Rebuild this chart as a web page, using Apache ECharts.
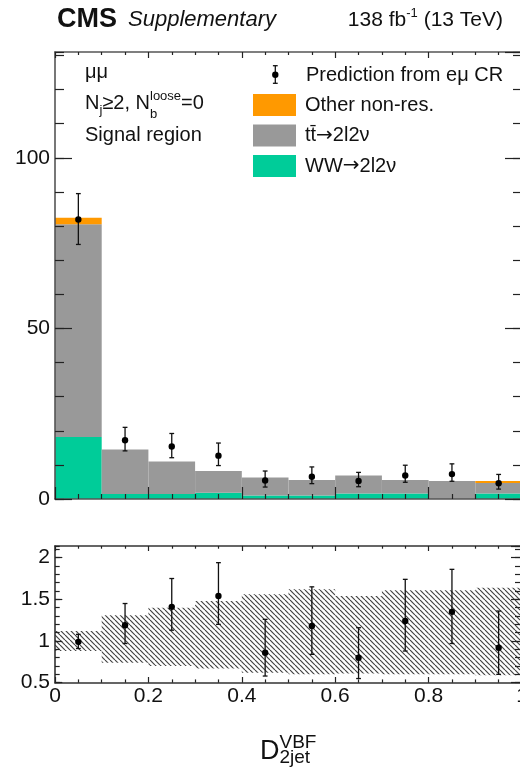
<!DOCTYPE html>
<html>
<head>
<meta charset="utf-8">
<script src="https://cdn.jsdelivr.net/npm/echarts@6/dist/echarts.min.js"></script>
<style>
  html, body { margin: 0; padding: 0; background: #fff; }
  #chart { width: 520px; height: 778px; }
</style>
</head>
<body>
<div id="chart"></div>
<script>
// D_2jet^VBF bin edges
const binEdges = [0, 0.1, 0.2, 0.3, 0.4, 0.5, 0.6, 0.7, 0.8, 0.9, 1.0];

// Stacked background components, events per bin
const wwYield    = [18.2, 1.5, 1.5, 1.8, 1.0, 1.0, 1.6, 1.6, 0.0, 1.6];
const ttbarYield = [62.3, 13.0, 9.5, 6.4, 5.3, 4.6, 5.3, 4.0, 5.3, 3.1];
const otherYield = [1.9, 0, 0, 0, 0, 0, 0, 0, 0, 0.6];

// Prediction from the e-mu control region (central value, error bar limits)
const predValue = [81.9, 17.2, 15.4, 12.7, 5.4, 6.5, 5.3, 6.9, 7.3, 4.6];
const predHigh  = [89.5, 21.0, 19.2, 16.4, 8.2, 9.4, 7.8, 9.9, 10.3, 7.2];
const predLow   = [74.6, 14.1, 12.1, 9.8, 3.5, 4.5, 3.6, 4.9, 5.2, 2.9];

// Ratio panel: prediction / stack, with error bar limits
const ratioValue = [0.99, 1.19, 1.41, 1.54, 0.86, 1.18, 0.80, 1.24, 1.35, 0.92];
const ratioHigh  = [1.08, 1.45, 1.75, 1.94, 1.26, 1.65, 1.16, 1.74, 1.86, 1.36];
const ratioLow   = [0.91, 0.97, 1.13, 1.20, 0.58, 0.84, 0.55, 0.88, 0.97, 0.60];

// Uncertainty band of the stack in the ratio panel
const bandHigh = [1.12, 1.31, 1.40, 1.48, 1.56, 1.62, 1.54, 1.61, 1.61, 1.64];
const bandLow  = [0.88, 0.74, 0.70, 0.67, 0.62, 0.60, 0.61, 0.60, 0.60, 0.59];

// Axis ranges and tick spacing
const mainYRange = [0, 131];
const mainYMajor = 50, mainYMinor = 10;
const ratioYRange = [0.5, 2.14];
const ratioYMajor = 0.5, ratioYMinor = 0.1;
const xMajor = 0.2;

// Series / legend names
const NAME_OTHER = 'Other non-res.';
const NAME_TT = 'tt\u0304\u21922l2\u03bd';
const NAME_WW = 'WW\u21922l2\u03bd';
const NAME_PRED = 'Prediction from e\u03bc CR';

const FONT = 'Liberation Sans';
const INK = '#111';
const COLORS = { other: '#ff9900', ttbar: '#999999', ww: '#00cc99' };

const bins = binEdges.slice(0, -1).map((lo, i) => ({ lo, hi: binEdges[i + 1], mid: (lo + binEdges[i + 1]) / 2 }));

const wwData = bins.map((b, i) => [b.lo, b.hi, 0, wwYield[i]]);
const ttData = bins.map((b, i) => [b.lo, b.hi, wwYield[i], wwYield[i] + ttbarYield[i]]);
const otherData = bins.map((b, i) => {
  const base = wwYield[i] + ttbarYield[i];
  return [b.lo, b.hi, base, base + otherYield[i]];
});
const predData = bins.map((b, i) => [b.mid, predValue[i], predLow[i], predHigh[i]]);
const ratioData = bins.map((b, i) => [b.mid, ratioValue[i], ratioLow[i], ratioHigh[i]]);
const bandData = bins.map((b, i) => [b.lo, b.hi, bandLow[i], bandHigh[i]]);

// Diagonal hatch tile for the uncertainty band
function hatchTile() {
  const s = 5;
  const c = document.createElement('canvas');
  c.width = s; c.height = s;
  const g = c.getContext('2d');
  g.strokeStyle = '#444';
  g.lineWidth = 1.2;
  for (const k of [-1, 0, 1]) {
    g.beginPath();
    g.moveTo(k * s, 0);
    g.lineTo(k * s + s, s);
    g.stroke();
  }
  return c;
}
const hatch = { image: hatchTile(), repeat: 'repeat' };

// Histogram box spanning [lo, hi] x [base, top]
function renderBox(params, api) {
  const a = api.coord([api.value(0), api.value(2)]);
  const b = api.coord([api.value(1), api.value(3)]);
  return {
    type: 'rect',
    shape: { x: a[0], y: b[1], width: b[0] - a[0], height: a[1] - b[1] },
    style: api.style()
  };
}

function renderBand(params, api) {
  const a = api.coord([api.value(0), api.value(2)]);
  const b = api.coord([api.value(1), api.value(3)]);
  return {
    type: 'rect',
    shape: { x: a[0], y: b[1], width: b[0] - a[0], height: a[1] - b[1] },
    style: { fill: hatch, stroke: null }
  };
}

// Marker with vertical error bar and small caps
function renderPoint(params, api) {
  const c = api.coord([api.value(0), api.value(1)]);
  const lo = api.coord([api.value(0), api.value(2)]);
  const hi = api.coord([api.value(0), api.value(3)]);
  const ls = { stroke: INK, lineWidth: 1.3 };
  const cap = 2.4;
  return {
    type: 'group',
    children: [
      { type: 'line', shape: { x1: c[0], y1: hi[1], x2: c[0], y2: lo[1] }, style: ls },
      { type: 'line', shape: { x1: c[0] - cap, y1: hi[1], x2: c[0] + cap, y2: hi[1] }, style: ls },
      { type: 'line', shape: { x1: c[0] - cap, y1: lo[1], x2: c[0] + cap, y2: lo[1] }, style: ls },
      { type: 'circle', shape: { cx: c[0], cy: c[1], r: 3.2 }, style: { fill: '#000' } }
    ]
  };
}

// Text layout with sub/superscripts
const measureCtx = document.createElement('canvas').getContext('2d');
function textWidth(str, size, weight, style) {
  measureCtx.font = `${style || 'normal'} ${weight || 'normal'} ${size}px "${FONT}"`;
  return measureCtx.measureText(str).width;
}
function textRun(x0, y0, pieces, alignRight) {
  const placed = [];
  let x = 0, prevX = 0, prevW = 0;
  pieces.forEach(p => {
    const w = textWidth(p.text, p.size, p.weight, p.style);
    let px;
    if (p.stack) {
      px = prevX;
      const adv = Math.max(prevW, w);
      x = prevX + adv;
      prevW = adv;
    } else {
      px = x; prevX = x; prevW = w; x += w;
    }
    placed.push({ p, px });
  });
  const shift = alignRight ? x0 - x : x0;
  return placed.map(({ p, px }) => ({
    type: 'text',
    x: shift + px,
    y: y0 + (p.dy || 0),
    z: 20,
    style: {
      text: p.text,
      fontSize: p.size,
      fontFamily: FONT,
      fontWeight: p.weight || 'normal',
      fontStyle: p.style || 'normal',
      fill: INK,
      align: 'left',
      verticalAlign: 'middle'
    }
  }));
}

const frameLine = (color) => ({ show: true, onZero: false, lineStyle: { color, width: 1.6 } });
const tickStyle = { color: '#222', width: 1.2 };
const noSplit = { splitLine: { show: false }, minorSplitLine: { show: false } };

function xAxisDef(grid, position, major, minor, labels) {
  return Object.assign({
    type: 'value', gridIndex: grid, position, min: 0, max: 1, interval: xMajor, z: 10,
    axisLine: frameLine(grid === 0 ? '#555' : '#333'),
    axisTick: { show: true, inside: true, length: major, lineStyle: tickStyle },
    minorTick: { show: true, splitNumber: 4, length: minor, lineStyle: tickStyle },
    axisLabel: labels
      ? { show: true, fontSize: 21, fontFamily: FONT, color: INK, margin: 3 }
      : { show: false }
  }, noSplit);
}

function yAxisDef(grid, position, range, interval, tickLen, withLine, labels) {
  return Object.assign({
    type: 'value', gridIndex: grid, position, min: range[0], max: range[1], interval, z: 10,
    axisLine: withLine ? frameLine(grid === 0 ? '#555' : '#333') : { show: false, onZero: false },
    axisTick: { show: true, inside: true, length: tickLen, lineStyle: tickStyle },
    axisLabel: labels
      ? { show: true, fontSize: 21, fontFamily: FONT, color: INK, margin: 5, showMaxLabel: false }
      : { show: false }
  }, noSplit);
}

const option = {
  backgroundColor: '#fff',
  animation: false,
  textStyle: { fontFamily: FONT },
  grid: [
    { left: 55, top: 52, width: 467, height: 447, outerBoundsMode: 'none', containLabel: false },
    { left: 55, top: 546, width: 467, height: 136.7, outerBoundsMode: 'none', containLabel: false }
  ],
  xAxis: [
    xAxisDef(0, 'bottom', 12, 5, false),
    xAxisDef(0, 'top', 6, 3, false),
    xAxisDef(1, 'bottom', 5.7, 3.3, true),
    xAxisDef(1, 'top', 5, 2.7, false)
  ],
  yAxis: [
    yAxisDef(0, 'left', mainYRange, mainYMajor, 17, true, true),
    yAxisDef(0, 'left', mainYRange, mainYMinor, 9, false, false),
    yAxisDef(0, 'right', mainYRange, mainYMajor, 17, true, false),
    yAxisDef(0, 'right', mainYRange, mainYMinor, 9, false, false),
    yAxisDef(1, 'left', ratioYRange, ratioYMajor, 7.3, true, true),
    yAxisDef(1, 'left', ratioYRange, ratioYMinor, 4.7, false, false),
    yAxisDef(1, 'right', ratioYRange, ratioYMajor, 11, true, false),
    yAxisDef(1, 'right', ratioYRange, ratioYMinor, 7, false, false)
  ],
  legend: {
    data: [NAME_OTHER, NAME_TT, NAME_WW],
    orient: 'vertical',
    left: 253, top: 94,
    padding: 0,
    itemWidth: 43, itemHeight: 22, itemGap: 8.5,
    icon: 'rect',
    selectedMode: false,
    itemStyle: { borderWidth: 0 },
    // the arrow is set in a face with a longer glyph
    formatter: name => name.replace('\u2192', '{arr|\u2192}'),
    textStyle: {
      fontSize: 20, fontFamily: FONT, color: INK, padding: [0, 0, 0, 4],
      rich: { arr: { fontSize: 20, fontFamily: 'DejaVu Sans', color: INK } }
    }
  },
  series: [
    { type: 'custom', name: NAME_WW, xAxisIndex: 0, yAxisIndex: 0, renderItem: renderBox,
      itemStyle: { color: COLORS.ww }, data: wwData, z: 2 },
    { type: 'custom', name: NAME_TT, xAxisIndex: 0, yAxisIndex: 0, renderItem: renderBox,
      itemStyle: { color: COLORS.ttbar }, data: ttData, z: 2 },
    { type: 'custom', name: NAME_OTHER, xAxisIndex: 0, yAxisIndex: 0, renderItem: renderBox,
      itemStyle: { color: COLORS.other }, data: otherData, z: 2 },
    { type: 'custom', name: NAME_PRED, xAxisIndex: 0, yAxisIndex: 0, renderItem: renderPoint,
      itemStyle: { color: '#000' }, data: predData, z: 4 },
    { type: 'custom', name: 'Uncertainty', xAxisIndex: 2, yAxisIndex: 4, renderItem: renderBand,
      data: bandData, z: 2 },
    { type: 'custom', name: 'Ratio', xAxisIndex: 2, yAxisIndex: 4, renderItem: renderPoint,
      data: ratioData, z: 4 }
  ],
  graphic: [
    ...textRun(57, 20, [{ text: 'CMS', size: 27, weight: 'bold' }]),
    ...textRun(128, 20, [{ text: 'Supplementary', size: 22, style: 'italic' }]),
    ...textRun(503, 20.3, [
      { text: '138 fb', size: 21 },
      { text: '-1', size: 13, dy: -7 },
      { text: ' (13 TeV)', size: 21 }
    ], true),
    ...textRun(85, 72.5, [{ text: '\u03bc\u03bc', size: 20 }]),
    ...textRun(85, 103.8, [
      { text: 'N', size: 20 },
      { text: 'j', size: 13, dy: 6.6 },
      { text: '\u22652, N', size: 20 },
      { text: 'loose', size: 13, dy: -7.8 },
      { text: 'b', size: 13, dy: 11, stack: true },
      { text: '=0', size: 20 }
    ]),
    ...textRun(85, 135.3, [{ text: 'Signal region', size: 20 }]),
    // Legend entry for the prediction markers
    { type: 'group', z: 20, children: [
      { type: 'line', shape: { x1: 275.3, y1: 65.7, x2: 275.3, y2: 83.3 }, style: { stroke: INK, lineWidth: 1.3 } },
      { type: 'line', shape: { x1: 272.9, y1: 65.7, x2: 277.7, y2: 65.7 }, style: { stroke: INK, lineWidth: 1.3 } },
      { type: 'line', shape: { x1: 272.9, y1: 83.3, x2: 277.7, y2: 83.3 }, style: { stroke: INK, lineWidth: 1.3 } },
      { type: 'circle', shape: { cx: 275.3, cy: 74.8, r: 3.2 }, style: { fill: '#000' } }
    ] },
    ...textRun(306, 75.5, [{ text: NAME_PRED, size: 20 }]),
    // x-axis title
    ...textRun(260, 751.5, [
      { text: 'D', size: 27 },
      { text: 'VBF', size: 19, dy: -9 },
      { text: '2jet', size: 19, dy: 6, stack: true }
    ])
  ]
};

const chart = echarts.init(document.getElementById('chart'), null, { renderer: 'canvas' });
chart.setOption(option);
</script>
</body>
</html>
